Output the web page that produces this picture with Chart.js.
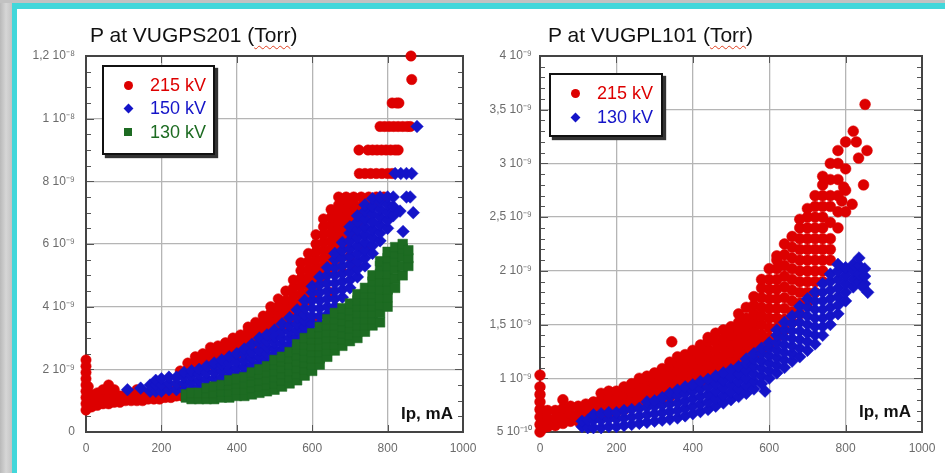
<!DOCTYPE html>
<html>
<head>
<meta charset="utf-8">
<script src="https://cdn.jsdelivr.net/npm/chart.js@4.4.1/dist/chart.umd.min.js"></script>
<style>
  html, body { margin: 0; padding: 0; }
  body { width: 945px; height: 473px; position: relative; overflow: hidden;
         font-family: "Liberation Sans", Arial, sans-serif; }
  #bg { position: absolute; left: 0; top: 0; width: 945px; height: 473px;
        background: linear-gradient(to right, #b9b9b9, #d6d6d6 6px, #c4c4c4 12px); }
  #bgtop { position: absolute; left: 0; top: 0; width: 945px; height: 3px; background: #c2c2c2; }
  #teal { position: absolute; left: 12px; top: 3px; right: 0; bottom: 0; background: #42d7da; }
  #white { position: absolute; left: 17px; top: 9px; right: 0; bottom: 0; background: #ffffff; }
  canvas { position: absolute; }
  #cL { left: 17px; top: 9px; }
  #cR { left: 470px; top: 9px; }
  .title { position: absolute; font-size: 21px; color: #111; line-height: 24px; white-space: nowrap; }
  .title .u { text-decoration: underline wavy #e0401f; text-decoration-thickness: 1px; text-underline-offset: 3px; }
  .legend { position: absolute; box-sizing: border-box; background: #fff; border: 2px solid #111;
            box-shadow: 3px 3px 1px #333; }
  .row { position: absolute; left: 0; height: 20px; line-height: 20px; font-size: 18px; white-space: nowrap; }
  .row span.t { position: absolute; left: 46px; top: 0; }
  .mk { position: absolute; left: 20px; top: 6px; width: 9px; height: 9px; }
  .mk.c { border-radius: 50%; }
  .mk.d { width: 7px; height: 7px; left: 21px; top: 7px; transform: rotate(45deg); }
  .mk.s { width: 8px; height: 8px; }
  .ip { position: absolute; font-size: 17px; font-weight: bold; color: #111; white-space: nowrap; }
</style>
</head>
<body>
<div id="bg"></div><div id="bgtop"></div><div id="teal"></div><div id="white"></div>
<canvas id="cL" width="473" height="464"></canvas>
<canvas id="cR" width="475" height="464"></canvas>

<div class="title" style="left:90px; top:23px;">P at VUGPS201 (<span class="u">Torr</span>)</div>
<div class="title" style="left:548px; top:23px;">P at VUGPL101 (<span class="u">Torr</span>)</div>

<div class="legend" style="left:102px; top:65px; width:113px; height:90px;">
  <div class="row" style="top:8px; color:#dd0000;"><div class="mk c" style="background:#dd0000"></div><span class="t">215 kV</span></div>
  <div class="row" style="top:31px; color:#1414c8;"><div class="mk d" style="background:#1414c8"></div><span class="t">150 kV</span></div>
  <div class="row" style="top:55px; color:#1d6b22;"><div class="mk s" style="background:#1d6b22"></div><span class="t">130 kV</span></div>
</div>
<div class="legend" style="left:549px; top:73px; width:114px; height:64px;">
  <div class="row" style="top:8px; color:#dd0000;"><div class="mk c" style="background:#dd0000"></div><span class="t">215 kV</span></div>
  <div class="row" style="top:32px; color:#1414c8;"><div class="mk d" style="background:#1414c8"></div><span class="t">130 kV</span></div>
</div>

<div class="ip" style="left:401px; top:404px;">Ip, mA</div>
<div class="ip" style="left:859px; top:402px;">Ip, mA</div>

<script>
// ---- Axis tick labels ----
const xTickValues = [0, 200, 400, 600, 800, 1000];
const yTickLabelsL = ['0', '2 10⁻⁹', '4 10⁻⁹', '6 10⁻⁹', '8 10⁻⁹', '1 10⁻⁸', '1,2 10⁻⁸'];
const yTickLabelsR = ['5 10⁻¹⁰', '1 10⁻⁹', '1,5 10⁻⁹', '2 10⁻⁹', '2,5 10⁻⁹', '3 10⁻⁹', '3,5 10⁻⁹', '4 10⁻⁹'];

// ---- Series (x = Ip in mA, y = pressure in units of 1e-9 Torr), stored as [x, [y values]] ----
// Left chart: P at VUGPS201
const L_215kV = [
  [0,[0.7,0.9,1.1,1.3,1.5,1.7,1.9,2.1,2.3]],
  [6,[0.8,1.0,1.2,1.45]],
  [15,[0.8,1.0,1.2]],
  [30,[0.85,1.05,1.25]],
  [45,[0.9,1.1,1.35]],
  [60,[0.9,1.1,1.3,1.5]],
  [75,[0.95,1.15,1.35]],
  [90,[0.95,1.15]],
  [105,[1.0,1.2]],
  [120,[1.0,1.2]],
  [135,[1.0,1.2,1.35]],
  [150,[1.0,1.2]],
  [165,[1.05,1.25]],
  [180,[1.05,1.25]],
  [195,[1.05,1.25,1.45]],
  [210,[1.1,1.3]],
  [225,[1.1,1.3]],
  [240,[1.15,1.35]],
  [255,[1.15,1.35]],
  [250,[1.95]],
  [270,[2.0,2.2]],
  [290,[2.05,2.25,2.4]],
  [310,[2.1,2.3,2.5]],
  [330,[2.15,2.35,2.55,2.7]],
  [350,[2.2,2.4,2.6,2.75]],
  [370,[2.3,2.5,2.7,2.85]],
  [390,[2.4,2.6,2.8,3.0]],
  [410,[2.5,2.7,2.9,3.1]],
  [430,[2.6,2.8,3.0,3.2,3.35]],
  [450,[2.75,2.95,3.15,3.35,3.5]],
  [470,[2.9,3.1,3.3,3.5,3.7]],
  [490,[3.0,3.2,3.4,3.6,3.8,4.0]],
  [510,[3.2,3.4,3.6,3.8,4.0,4.25]],
  [530,[3.4,3.6,3.8,4.0,4.2,4.5]],
  [550,[3.6,3.85,4.1,4.35,4.6,4.85]],
  [570,[3.9,4.15,4.4,4.65,4.9,5.15,5.4]],
  [590,[4.2,4.45,4.7,4.95,5.2,5.45,5.7]],
  [610,[4.5,4.75,5.0,5.25,5.5,5.75,6.0,6.3]],
  [630,[4.8,5.05,5.3,5.55,5.8,6.05,6.3,6.55,6.8]],
  [650,[5.1,5.35,5.6,5.85,6.1,6.35,6.6,6.85,7.1]],
  [670,[5.5,5.75,6.0,6.25,6.5,6.75,7.0,7.25,7.5]],
  [690,[5.9,6.15,6.4,6.65,6.9,7.15,7.4,7.5]],
  [710,[6.3,6.55,6.8,7.05,7.3,7.5]],
  [730,[6.7,6.95,7.2,7.5]],
  [750,[7.0,7.25,7.5]],
  [770,[7.3,7.5]],
  [790,[7.5]],
  [540,[2.7]],[560,[3.0]],[580,[3.2]],[600,[3.6]],[612,[4.4]],[647,[4.45]],
  [680,[5.1]],[700,[5.6]],[718,[5.3]],[740,[5.9]],
  [725,[8.25]],[740,[8.25]],[755,[8.25]],[770,[8.25]],[785,[8.25]],[800,[8.25]],[812,[8.25]],
  [724,[9.0]],[748,[9.0]],[760,[9.0]],[772,[9.0]],[784,[9.0]],[796,[9.0]],[808,[9.0]],[820,[9.0]],[828,[9.0]],
  [780,[9.75]],[792,[9.75]],[804,[9.75]],[816,[9.75]],[828,[9.75]],[840,[9.75]],[852,[9.75]],[860,[9.75]],
  [812,[10.5]],[824,[10.5]],[830,[10.5]],
  [864,[11.25]],
  [862,[12.0]]
];
const L_150kV = [
  [110,[1.35]],
  [145,[1.4]],
  [170,[1.3,1.5]],
  [185,[1.3,1.5,1.65]],
  [200,[1.3,1.5,1.7]],
  [220,[1.35,1.55,1.75]],
  [240,[1.35,1.55,1.75]],
  [260,[1.35,1.55,1.75,1.9]],
  [280,[1.4,1.6,1.8,1.95]],
  [300,[1.45,1.65,1.85,2.0]],
  [320,[1.5,1.7,1.9,2.1]],
  [340,[1.5,1.7,1.9,2.1,2.2]],
  [360,[1.55,1.75,1.95,2.15,2.3]],
  [380,[1.6,1.8,2.0,2.2,2.4]],
  [400,[1.65,1.85,2.05,2.25,2.5]],
  [420,[1.7,1.9,2.1,2.3,2.5,2.65]],
  [440,[1.75,1.95,2.15,2.35,2.55,2.8]],
  [460,[1.8,2.0,2.2,2.4,2.6,2.85,3.0]],
  [480,[1.9,2.1,2.3,2.5,2.7,2.9,3.1]],
  [500,[2.05,2.25,2.45,2.65,2.85,3.05,3.25]],
  [520,[2.2,2.4,2.6,2.8,3.0,3.2,3.45]],
  [540,[2.4,2.6,2.8,3.0,3.2,3.4,3.65]],
  [560,[2.65,2.85,3.05,3.25,3.45,3.65,3.9]],
  [580,[2.95,3.15,3.35,3.55,3.75,3.95,4.2]],
  [600,[3.2,3.45,3.7,3.95,4.2,4.45,4.65]],
  [620,[3.45,3.7,3.95,4.2,4.45,4.7,4.95]],
  [640,[3.75,4.0,4.25,4.5,4.75,5.0,5.25]],
  [660,[4.0,4.25,4.5,4.75,5.0,5.25,5.5,5.7]],
  [680,[4.3,4.55,4.8,5.05,5.3,5.55,5.8,6.05]],
  [700,[4.6,4.85,5.1,5.35,5.6,5.85,6.1,6.35,6.55]],
  [720,[4.95,5.2,5.45,5.7,5.95,6.2,6.45,6.7,6.9]],
  [740,[5.3,5.55,5.8,6.05,6.3,6.55,6.8,7.05,7.25]],
  [760,[5.7,5.95,6.2,6.45,6.7,6.95,7.2,7.45]],
  [780,[6.1,6.35,6.6,6.85,7.1,7.35,7.5]],
  [800,[6.5,6.75,7.0,7.25,7.5]],
  [815,[6.9,7.2,7.5]],
  [833,[7.05]],[841,[6.4]],[850,[7.5]],[860,[7.5]],[868,[7.0]],
  [820,[8.25]],[835,[8.25]],[850,[8.25]],[864,[8.25]],
  [878,[9.75]]
];
const L_130kV = [
  [265,[1.1,1.2]],
  [280,[1.05,1.25]],
  [300,[1.05,1.25]],
  [320,[1.05,1.25,1.4]],
  [340,[1.05,1.25,1.45]],
  [360,[1.1,1.3,1.5]],
  [380,[1.1,1.3,1.5,1.65]],
  [400,[1.15,1.35,1.55,1.7]],
  [420,[1.15,1.35,1.55,1.75]],
  [440,[1.2,1.4,1.6,1.8,1.9]],
  [460,[1.25,1.45,1.65,1.85,2.0]],
  [480,[1.3,1.5,1.7,1.9,2.1]],
  [500,[1.35,1.55,1.75,1.95,2.15,2.3]],
  [520,[1.45,1.65,1.85,2.05,2.25,2.4]],
  [540,[1.55,1.75,1.95,2.15,2.35,2.55]],
  [560,[1.65,1.85,2.05,2.25,2.45,2.65,2.8]],
  [580,[1.8,2.0,2.2,2.4,2.6,2.8,3.0]],
  [600,[1.95,2.15,2.35,2.55,2.75,2.95,3.15]],
  [620,[2.15,2.35,2.55,2.75,2.95,3.15,3.35]],
  [640,[2.4,2.6,2.8,3.0,3.2,3.4,3.6]],
  [660,[2.6,2.8,3.0,3.2,3.4,3.6,3.8]],
  [680,[2.75,2.95,3.15,3.35,3.55,3.75,3.95]],
  [700,[2.9,3.1,3.3,3.5,3.7,3.9,4.1]],
  [720,[3.0,3.2,3.4,3.6,3.8,4.0,4.2,4.4]],
  [740,[3.2,3.4,3.6,3.8,4.0,4.2,4.4,4.6]],
  [760,[3.4,3.6,3.8,4.0,4.2,4.4,4.6,4.8,5.0]],
  [780,[3.5,3.8,4.05,4.3,4.55,4.8,5.05,5.3,5.45]],
  [800,[4.0,4.3,4.55,4.8,5.05,5.3,5.55,5.75]],
  [820,[4.6,4.9,5.2,5.45,5.7,5.9]],
  [840,[5.0,5.3,5.6,5.85,6.0]],
  [855,[5.3,5.55,5.8]]
];

// Right chart: P at VUGPL101
const R_215kV = [
  [0,[0.5,0.57,0.64,0.71,0.78,0.85,0.92,1.03]],
  [6,[0.53,0.62,0.7]],
  [20,[0.55,0.62,0.7]],
  [40,[0.56,0.63,0.7]],
  [60,[0.58,0.65,0.72,0.8]],
  [80,[0.6,0.67,0.74]],
  [100,[0.6,0.67,0.74]],
  [120,[0.62,0.69,0.76]],
  [140,[0.64,0.71,0.78]],
  [160,[0.65,0.72,0.8,0.86]],
  [180,[0.67,0.74,0.81,0.88]],
  [200,[0.69,0.76,0.83,0.88]],
  [220,[0.71,0.78,0.85,0.92]],
  [240,[0.73,0.8,0.87,0.95]],
  [260,[0.75,0.82,0.89,0.96,1.0]],
  [280,[0.77,0.84,0.91,0.98,1.02]],
  [300,[0.79,0.86,0.93,1.0,1.05]],
  [320,[0.81,0.88,0.95,1.02,1.09]],
  [340,[0.83,0.9,0.97,1.04,1.11,1.15]],
  [360,[0.86,0.93,1.0,1.07,1.14,1.2]],
  [380,[0.89,0.96,1.03,1.1,1.17,1.22]],
  [400,[0.93,1.0,1.07,1.14,1.2,1.26]],
  [420,[0.96,1.03,1.1,1.17,1.24,1.31]],
  [440,[0.99,1.06,1.13,1.2,1.27,1.34,1.38]],
  [460,[1.02,1.1,1.18,1.26,1.34,1.42]],
  [480,[1.05,1.13,1.21,1.29,1.37,1.45]],
  [500,[1.08,1.16,1.24,1.32,1.4,1.48]],
  [520,[1.12,1.2,1.28,1.36,1.44,1.52,1.6]],
  [540,[1.16,1.24,1.32,1.4,1.48,1.56,1.66]],
  [560,[1.2,1.28,1.36,1.44,1.52,1.6,1.68,1.76]],
  [580,[1.25,1.33,1.41,1.5,1.58,1.66,1.75,1.84,1.92]],
  [600,[1.3,1.38,1.47,1.56,1.65,1.74,1.83,1.92,2.02]],
  [620,[1.38,1.47,1.56,1.65,1.74,1.83,1.92,2.02,2.1,2.14]],
  [640,[1.45,1.55,1.65,1.75,1.85,1.95,2.05,2.15,2.25]],
  [660,[1.52,1.62,1.72,1.82,1.92,2.02,2.12,2.22,2.32]],
  [680,[1.6,1.7,1.8,1.9,2.0,2.1,2.2,2.3,2.4,2.48]],
  [700,[1.7,1.8,1.9,2.0,2.1,2.2,2.3,2.4,2.5,2.58]],
  [720,[1.8,1.9,2.0,2.1,2.2,2.3,2.4,2.5,2.6,2.7]],
  [740,[1.9,2.0,2.1,2.2,2.3,2.4,2.5,2.6,2.7,2.8,2.88]],
  [760,[2.1,2.2,2.3,2.45,2.6,2.7,2.85,3.0]],
  [780,[2.4,2.55,2.7,2.85,3.0,3.12]],
  [800,[2.55,2.75,2.95,3.2]],
  [345,[1.34]],
  [790,[2.65]],[795,[2.78]],[817,[2.62]],[820,[3.3]],[828,[3.2]],[834,[3.05]],
  [847,[2.8]],[856,[3.12]],[851,[3.55]]
];
const R_130kV = [
  [110,[0.55,0.6]],
  [125,[0.54,0.61]],
  [140,[0.54,0.61,0.66]],
  [160,[0.54,0.61,0.67]],
  [180,[0.55,0.62,0.68]],
  [200,[0.55,0.62,0.68]],
  [220,[0.56,0.63,0.7]],
  [240,[0.57,0.64,0.71]],
  [260,[0.58,0.65,0.72]],
  [280,[0.59,0.66,0.73,0.78]],
  [300,[0.6,0.67,0.74,0.79]],
  [320,[0.61,0.68,0.75,0.82]],
  [340,[0.62,0.69,0.76,0.83,0.86]],
  [360,[0.63,0.7,0.77,0.84,0.89]],
  [380,[0.65,0.72,0.79,0.86,0.92]],
  [400,[0.67,0.74,0.81,0.88,0.94]],
  [420,[0.69,0.76,0.83,0.9,0.97]],
  [440,[0.71,0.78,0.85,0.92,0.99]],
  [460,[0.74,0.81,0.88,0.95,1.02]],
  [480,[0.77,0.84,0.91,0.98,1.05]],
  [500,[0.8,0.87,0.94,1.01,1.08]],
  [520,[0.83,0.9,0.97,1.04,1.11]],
  [540,[0.86,0.93,1.0,1.07,1.14,1.18]],
  [560,[0.9,0.97,1.04,1.11,1.18,1.23]],
  [580,[0.95,1.02,1.09,1.16,1.23,1.28]],
  [600,[1.0,1.07,1.14,1.21,1.28,1.33]],
  [620,[1.05,1.12,1.19,1.26,1.33,1.4,1.45]],
  [640,[1.1,1.17,1.24,1.31,1.38,1.45,1.52]],
  [660,[1.16,1.23,1.3,1.37,1.44,1.51,1.58]],
  [680,[1.2,1.28,1.36,1.44,1.52,1.6,1.67]],
  [700,[1.26,1.34,1.42,1.5,1.58,1.66,1.74]],
  [720,[1.32,1.4,1.48,1.56,1.64,1.72,1.8]],
  [740,[1.4,1.48,1.56,1.64,1.72,1.8,1.88]],
  [760,[1.5,1.58,1.66,1.74,1.82,1.9,1.97]],
  [780,[1.6,1.68,1.76,1.84,1.92,2.0,2.06]],
  [800,[1.72,1.8,1.88,1.96,2.03]],
  [820,[1.85,1.92,2.0,2.06]],
  [835,[1.9,1.97,2.05,2.12]],
  [850,[1.88,1.95,2.02]],
  [589,[0.88]],[845,[1.85]],[858,[1.8]]
];

// ---- Build Chart.js datasets from the tables ----
function toPoints(cols) {
  const pts = [];
  cols.forEach(([x, ys]) => ys.forEach(y => pts.push({ x: x, y: y })));
  return pts;
}

const RED = '#dd0000', BLUE = '#1414c8', GREEN = '#1d6b22';

const framePlugin = {
  id: 'frame',
  beforeDatasetsDraw(chart, args, opts) {
    const { ctx, chartArea: a } = chart;
    const y = chart.scales.y, x = chart.scales.x;
    ctx.save();
    ctx.strokeStyle = '#555';
    ctx.lineWidth = 1;
    const n = Math.round((y.max - y.min) / opts.minor);
    for (let i = 0; i <= n; i++) {
      const v = y.min + i * opts.minor;
      const py = Math.round(y.getPixelForValue(v)) + 0.5;
      const major = Math.abs((v - y.min) / opts.major - Math.round((v - y.min) / opts.major)) < 1e-6;
      const len = major ? 8 : 5;
      ctx.beginPath();
      ctx.moveTo(a.left, py); ctx.lineTo(a.left + len, py);
      ctx.moveTo(a.right, py); ctx.lineTo(a.right - len, py);
      ctx.stroke();
    }
    xTickValues.forEach(v => {
      const px = Math.round(x.getPixelForValue(v)) + 0.5;
      ctx.beginPath();
      ctx.moveTo(px, a.top); ctx.lineTo(px, a.top + 7);
      ctx.moveTo(px, a.bottom); ctx.lineTo(px, a.bottom - 7);
      ctx.stroke();
    });
    ctx.lineWidth = 2;
    ctx.strokeStyle = '#444';
    ctx.strokeRect(a.left, a.top, a.right - a.left, a.bottom - a.top);
    ctx.restore();
  }
};

function makeChart(canvasId, datasets, yMin, yMax, yStep, yLabels, minor, yWidth, padRight, yPad) {
  return new Chart(document.getElementById(canvasId), {
    type: 'scatter',
    data: { datasets: datasets },
    options: {
      responsive: false,
      animation: false,
      devicePixelRatio: 1,
      events: [],
      layout: { padding: { left: 0, right: padRight, top: 47, bottom: 0 } },
      plugins: { legend: { display: false }, tooltip: { enabled: false }, frame: { minor: minor, major: yStep } },
      scales: {
        x: {
          type: 'linear', min: 0, max: 1000,
          afterBuildTicks: (s) => { s.ticks = xTickValues.map(v => ({ value: v })); },
          ticks: { color: '#6b6b6b', font: { size: 12 }, padding: 9, maxRotation: 0,
                   callback: (v) => String(v) },
          grid: { color: '#b5b5b5', lineWidth: 1.3, drawTicks: false },
          border: { display: false },
          afterFit: (s) => { s.height = 41; }
        },
        y: {
          type: 'linear', min: yMin, max: yMax,
          afterBuildTicks: (s) => { s.ticks = yLabels.map((l, i) => ({ value: yMin + i * yStep })); },
          ticks: { color: '#6b6b6b', font: { size: 12 }, padding: yPad,
                   callback: (v) => yLabels[Math.round((v - yMin) / yStep)] },
          grid: { color: '#b5b5b5', lineWidth: 1.3, drawTicks: false },
          border: { display: false },
          afterFit: (s) => { s.width = yWidth; }
        }
      }
    },
    plugins: [framePlugin]
  });
}

Chart.defaults.font.family = '"Liberation Sans", Arial, sans-serif';

makeChart('cL', [
  { label: '215 kV', data: toPoints(L_215kV), pointStyle: 'circle', pointRadius: 5.2,
    backgroundColor: RED, borderColor: RED, borderWidth: 0.5, order: 3, clip: false },
  { label: '150 kV', data: toPoints(L_150kV), pointStyle: 'rectRot', pointRadius: 6.3,
    backgroundColor: BLUE, borderColor: BLUE, borderWidth: 0.5, order: 2, clip: false },
  { label: '130 kV', data: toPoints(L_130kV), pointStyle: 'rect', pointRadius: 6.8,
    backgroundColor: GREEN, borderColor: GREEN, borderWidth: 0.5, order: 1, clip: false }
], 0, 12, 2, yTickLabelsL, 0.5, 69, 27, 11);

makeChart('cR', [
  { label: '215 kV', data: toPoints(R_215kV), pointStyle: 'circle', pointRadius: 5.4,
    backgroundColor: RED, borderColor: RED, borderWidth: 0.5, order: 2, clip: false },
  { label: '130 kV', data: toPoints(R_130kV), pointStyle: 'rectRot', pointRadius: 6.3,
    backgroundColor: BLUE, borderColor: BLUE, borderWidth: 0.5, order: 1, clip: false }
], 0.5, 4, 0.5, yTickLabelsR, 0.1, 70, 23, 8);
</script>
</body>
</html>
